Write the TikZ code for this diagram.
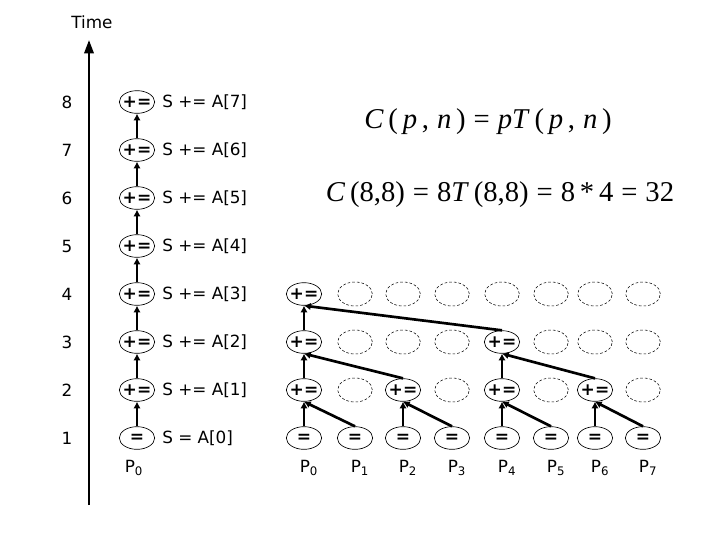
\documentclass[tikz,border=0pt]{standalone}
\usepackage{fontspec}
\setmainfont{DejaVu Sans}
\newfontfamily\tms{Liberation Serif}
\usetikzlibrary{shapes.geometric,arrows.meta}
\newcommand{\ita}[1]{\textit{#1}}
\newcommand{\opt}[1]{\makebox[0pt]{#1}}
\begin{document}
\begin{tikzpicture}[x=0.75pt,y=-0.75pt,
  op/.style={ellipse, draw, line width=0.5pt, minimum width=26.5pt, minimum height=17pt, inner sep=0pt, font=\bfseries\fontsize{12.8}{12.8}\selectfont},
  ghost/.style={ellipse, draw, dash pattern=on 2pt off 1.5pt, line width=0.4pt, minimum width=26pt, minimum height=18pt, inner sep=0pt},
  lbl/.style={font=\fontsize{12.6}{14}\selectfont, inner sep=0pt},
  link/.style={line width=2pt, -{Latex[length=5pt,width=5.5pt]}},
  axis/.style={line width=1.7pt, -{Triangle[length=10pt,width=7pt]}},
  eq/.style={font=\tms\fontsize{21.5}{24}\selectfont, inner sep=0pt}]
\useasboundingbox (0,0) rectangle (720,540);
% time axis
\coordinate (ax0) at (89,505);
\coordinate (ax1) at (89,40);
\draw[axis] (ax0) -- (ax1);
\node[lbl] (time) at (92,22) {Time};
% left column (single processor)
\node[op] (L1) at (137,438) {\opt{=}};
\node[lbl, anchor=west] (T1) at (162,438) {S = A[0]};
\node[lbl] (N1) at (67,438) {1};
\foreach \i/\y [evaluate=\i as \k using int(\i-1)] in {2/390,3/342,4/294,5/246,6/198,7/150,8/102} {
  \node[op] (L\i) at (137,\y) {\opt{+=}};
  \node[lbl, anchor=west] (T\i) at (162,\y) {S += A[\k]};
  \node[lbl] (N\i) at (67,\y) {\i};
}
\foreach \i/\j in {1/2,2/3,3/4,4/5,5/6,6/7,7/8}
  \draw[link] (L\i.north) -- (L\j.south);
\node[lbl] (PL) at (134,468) {P\textsubscript{0}};
% right: parallel reduction
\foreach \c/\x in {0/304,1/355,2/403,3/452,4/502,5/551,6/595,7/643} {
  \node[op] (a\c) at (\x,438) {\opt{=}};
  \node[lbl] (p\c) at (\x+5,468) {P\textsubscript{\c}};
}
\foreach \c/\x in {0/304,2/403,4/502,6/595} \node[op] (b\c) at (\x,390) {\opt{+=}};
\foreach \c/\x in {1/355,3/452,5/551,7/643} \node[ghost] (b\c) at (\x,390) {};
\foreach \c/\x in {0/304,4/502} \node[op] (c\c) at (\x,342) {\opt{+=}};
\foreach \c/\x in {1/355,2/403,3/452,5/551,6/595,7/643} \node[ghost] (c\c) at (\x,342) {};
\node[op] (d0) at (304,294) {\opt{+=}};
\foreach \c/\x in {1/355,2/403,3/452,4/502,5/551,6/595,7/643} \node[ghost] (d\c) at (\x,294) {};
\foreach \c/\p in {0/0,1/0,2/2,3/2,4/4,5/4,6/6,7/6}
  \draw[link] (a\c.north) -- (b\p.south);
\foreach \c/\p in {0/0,2/0,4/4,6/4}
  \draw[link] (b\c.north) -- (c\p.south);
\draw[link] (c0.north) -- (d0.south);
\draw[link] (c4.north) -- (d0.south);
% equations
\node[eq] (eq1) at (488,122) {\ita{C}\,(\,\ita{p}\,,\;\ita{n}\,)\;=\;\ita{pT}\,(\,\ita{p}\,,\;\ita{n}\,)};
\node[eq] (eq2) at (500,195) {\ita{C}\,(8,8)\;=\;8\ita{T}\,(8,8)\;=\;8\,*\,4\;=\;32};
\end{tikzpicture}
\end{document}
